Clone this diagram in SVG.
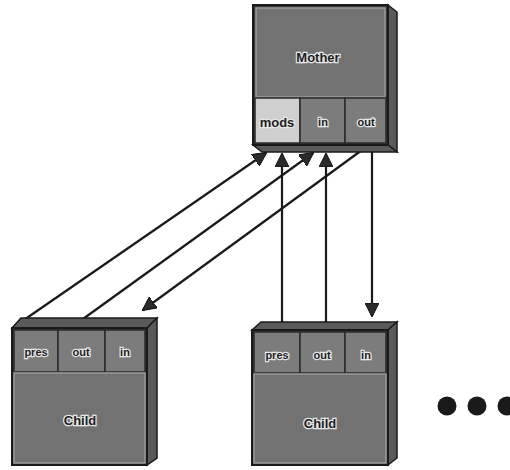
<svg xmlns="http://www.w3.org/2000/svg" width="510" height="470" viewBox="0 0 510 470">
<defs>
<style>
.frame{fill:#3a3a3a;stroke:#1a1a1a;stroke-width:2}
.side{fill:#5a5a5a;stroke:#1a1a1a;stroke-width:1.5}
.panel{fill:#727272;stroke:#9a9a9a;stroke-width:1.5}
.cell{fill:#7c7c7c;stroke:#2a2a2a;stroke-width:1.5}
.light{fill:#cfcfcf;stroke:#2a2a2a;stroke-width:1.5}
.lbl{font-family:"Liberation Sans",Arial,sans-serif;font-weight:bold;font-size:11px;fill:#1e1e1e;stroke:#e6e6e6;stroke-width:2.5;paint-order:stroke;text-anchor:middle;dominant-baseline:central}
.big{font-size:13px}
.conn{stroke:#1a1a1a;stroke-width:2.2;fill:none}
</style>
<marker id="ah" markerWidth="14" markerHeight="14" refX="13" refY="7" orient="auto" markerUnits="userSpaceOnUse">
<path d="M0,0 L14,7 L0,14 Z" fill="#2a2a2a" stroke="#111" stroke-width="1"/>
</marker>
</defs>
<g id="connectors">
<line class="conn" x1="21" y1="322" x2="266" y2="153" marker-end="url(#ah)"/>
<line class="conn" x1="76" y1="324" x2="313" y2="153" marker-end="url(#ah)"/>
<line class="conn" x1="362" y1="150" x2="143" y2="310" marker-end="url(#ah)"/>
<line class="conn" x1="282" y1="322" x2="282" y2="154" marker-end="url(#ah)"/>
<line class="conn" x1="326" y1="322" x2="326" y2="154" marker-end="url(#ah)"/>
<line class="conn" x1="372" y1="152" x2="372" y2="316" marker-end="url(#ah)"/>
</g>
<g id="mother">
<polygon class="side" points="388,5 397,12 397,152 388,145"/>
<polygon class="side" points="253,145 388,145 397,152 262,152"/>
<rect class="frame" x="253" y="5" width="135" height="140"/>
<rect class="panel" x="256" y="8" width="129" height="89"/>
<rect class="light" x="255" y="98" width="45" height="45"/>
<rect class="cell" x="300" y="98" width="45" height="45"/>
<rect class="cell" x="345" y="98" width="41" height="45"/>
<text class="lbl big" x="318" y="57">Mother</text>
<text class="lbl big" x="277" y="122">mods</text>
<text class="lbl" x="323" y="122">in</text>
<text class="lbl" x="366" y="122">out</text>
</g>
<g id="child-left">
<polygon class="side" points="12,328 21,318 157,318 147,328"/>
<polygon class="side" points="147,328 157,318 157,458 147,465"/>
<rect class="frame" x="12" y="328" width="135" height="137"/>
<rect class="cell" x="14" y="330" width="44" height="42"/>
<rect class="cell" x="58" y="330" width="47" height="42"/>
<rect class="cell" x="105" y="330" width="40" height="42"/>
<rect class="panel" x="14" y="373" width="131" height="90"/>
<text class="lbl" x="36" y="352">pres</text>
<text class="lbl" x="81" y="352">out</text>
<text class="lbl" x="125" y="352">in</text>
<text class="lbl big" x="80" y="420">Child</text>
</g>
<g id="child-right">
<polygon class="side" points="252,330 261,322 397,322 388,330"/>
<polygon class="side" points="388,330 397,322 397,458 388,465"/>
<rect class="frame" x="252" y="330" width="136" height="135"/>
<rect class="cell" x="254" y="332" width="46" height="41"/>
<rect class="cell" x="300" y="332" width="45" height="41"/>
<rect class="cell" x="345" y="332" width="41" height="41"/>
<rect class="panel" x="254" y="374" width="132" height="89"/>
<text class="lbl" x="277" y="355">pres</text>
<text class="lbl" x="322" y="355">out</text>
<text class="lbl" x="366" y="355">in</text>
<text class="lbl big" x="320" y="423">Child</text>
</g>
<g id="ellipsis">
<circle cx="447" cy="406" r="9.5" fill="#1a1a1a"/>
<circle cx="477" cy="406" r="9.5" fill="#1a1a1a"/>
<circle cx="507" cy="406" r="9.5" fill="#1a1a1a"/>
</g>
</svg>
